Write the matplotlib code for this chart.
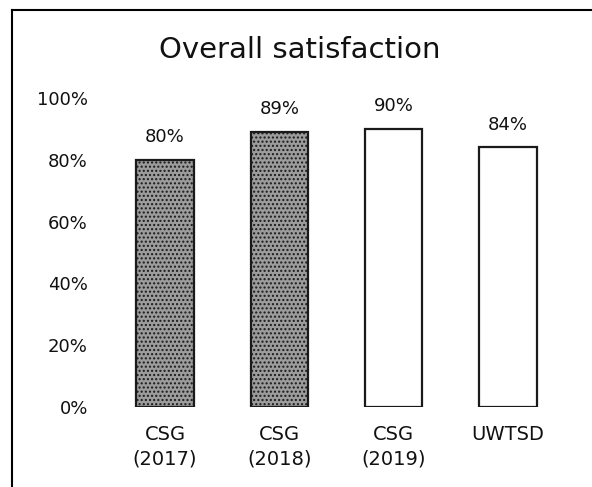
import matplotlib
matplotlib.use("Agg")
import matplotlib.pyplot as plt
from matplotlib.lines import Line2D

# chart data
categories = ["CSG\n(2017)", "CSG\n(2018)", "CSG\n(2019)", "UWTSD"]
values = [80, 89, 90, 84]
value_labels = ["80%", "89%", "90%", "84%"]
y_ticks = [0, 20, 40, 60, 80, 100]
y_tick_labels = ["0%", "20%", "40%", "60%", "80%", "100%"]

plt.rcParams["font.family"] = ["DejaVu Sans"]

fig = plt.figure(figsize=(5.92, 4.87), dpi=100)
ax = fig.add_axes([110 / 592, 80 / 487, 460 / 592, 309 / 487])

x = list(range(len(categories)))
faces = ["#9c9c9c", "#9c9c9c", "white", "white"]
hatches = ["....", "....", None, None]
bars = ax.bar(x, values, width=0.5, color=faces, edgecolor="#1a1a1a", linewidth=1.6)
for b, h in zip(bars, hatches):
    if h:
        b.set_hatch(h)

ax.bar_label(bars, labels=value_labels, padding=10, fontsize=13, color="#111111")

ax.set_xlim(-0.481, 3.543)
ax.set_ylim(0, 100)
ax.set_yticks(y_ticks)
ax.set_yticklabels(y_tick_labels, fontsize=13, color="#111111")
ax.set_xticks(x)
ax.set_xticklabels(categories, fontsize=14, color="#111111", linespacing=1.35)
ax.tick_params(axis="both", length=0)
ax.tick_params(axis="y", pad=16)
ax.tick_params(axis="x", pad=13)
for s in ax.spines.values():
    s.set_visible(False)

fig.text(300 / 592, 1 - 50 / 487, "Overall satisfaction", fontsize=21,
         ha="center", va="center", color="#111111")

# frame drawn around the chart (left and top edges)
fig.add_artist(Line2D([12 / 592, 12 / 592], [0, 1 - 10 / 487],
                      transform=fig.transFigure, color="black", lw=1.5))
fig.add_artist(Line2D([12 / 592, 1], [1 - 10 / 487, 1 - 10 / 487],
                      transform=fig.transFigure, color="black", lw=1.5))

fig.savefig("out.png", dpi=100)
